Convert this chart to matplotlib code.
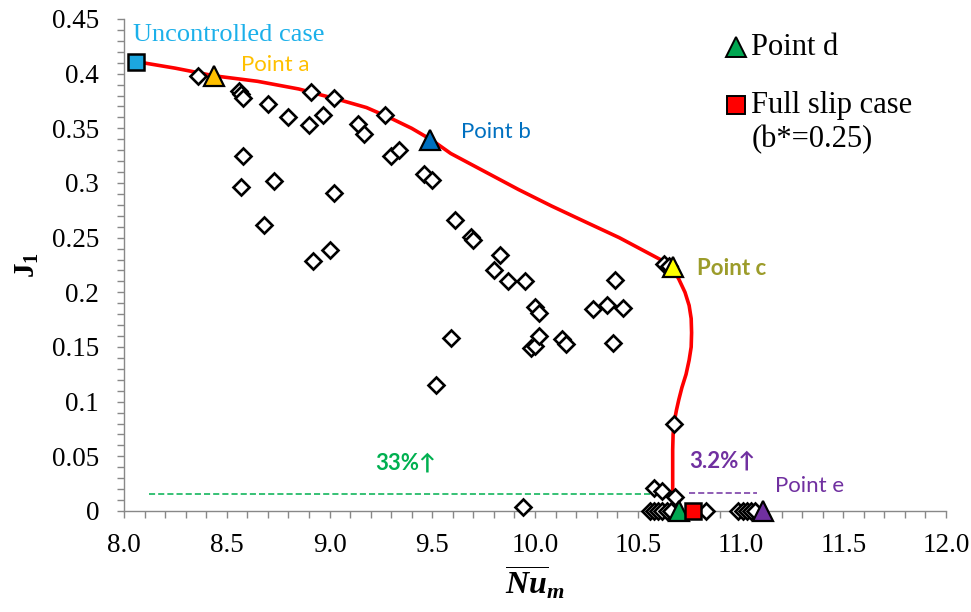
import matplotlib
matplotlib.use("Agg")
import matplotlib.pyplot as plt
from matplotlib.ticker import MultipleLocator, FuncFormatter

plt.rcParams['font.family'] = ['Liberation Serif', 'DejaVu Serif']
plt.rcParams['mathtext.fontset'] = 'custom'
plt.rcParams['mathtext.it'] = 'Liberation Serif:bold:italic'
plt.rcParams['mathtext.rm'] = 'Liberation Serif:bold'
plt.rcParams['mathtext.bf'] = 'Liberation Serif:bold'

# Pareto front (red curve)
front_x = [8.06, 8.25, 8.44, 8.65, 8.85, 9.05, 9.18, 9.29, 9.40, 9.50, 9.59, 9.76, 9.92, 10.08, 10.25, 10.41, 10.54,
           10.60, 10.64, 10.67, 10.70, 10.73, 10.75, 10.76, 10.762, 10.76, 10.75, 10.735, 10.715, 10.70,
           10.688, 10.678, 10.672, 10.67, 10.67, 10.67]
front_y = [0.411, 0.405, 0.398, 0.393, 0.386, 0.376, 0.369, 0.360, 0.350, 0.339, 0.327, 0.310, 0.294, 0.279, 0.264, 0.250, 0.237,
           0.231, 0.227, 0.222, 0.212, 0.200, 0.188, 0.176, 0.163, 0.150, 0.138, 0.125, 0.113, 0.102,
           0.092, 0.082, 0.070, 0.056, 0.030, 0.0]

# candidate designs (open diamonds)
cand_x = [8.36, 8.56, 8.57, 8.58, 8.70, 8.80, 8.91, 8.90, 8.97, 9.02, 9.14, 9.17, 9.27, 9.30, 9.34,
          9.46, 9.50, 8.58, 8.57, 8.73, 8.68, 9.02, 8.92, 9.00, 9.61, 9.69, 9.70, 9.83, 9.80, 9.87,
          9.95, 10.00, 10.02, 9.98, 10.00, 10.02, 9.59, 9.52, 10.13, 10.15, 10.28, 10.35, 10.39, 10.43,
          10.38, 10.63, 10.65, 10.675, 10.68, 10.58, 10.62, 9.94,
          10.56, 10.58, 10.60, 10.62, 10.64, 10.66, 10.83, 10.99, 11.01, 11.03, 11.05, 11.07]
cand_y = [0.398, 0.384, 0.381, 0.378, 0.372, 0.360, 0.383, 0.353, 0.362, 0.378, 0.354, 0.345, 0.362, 0.325, 0.330,
          0.308, 0.303, 0.325, 0.296, 0.302, 0.262, 0.291, 0.229, 0.239, 0.266, 0.251, 0.248, 0.234, 0.220, 0.210,
          0.210, 0.187, 0.181, 0.149, 0.151, 0.160, 0.158, 0.115, 0.157, 0.153, 0.185, 0.188, 0.211, 0.186,
          0.154, 0.226, 0.224, 0.080, 0.013, 0.021, 0.018, 0.004,
          0.0, 0.0, 0.0, 0.0, 0.0, 0.0, 0.0, 0.0, 0.0, 0.0, 0.0, 0.0]

# highlighted points
unc_x, unc_y = 8.06, 0.411
pa_x, pa_y = 8.44, 0.398
pb_x, pb_y = 9.49, 0.339
pc_x, pc_y = 10.67, 0.223
pd_x, pd_y = 10.70, 0.0
fs_x, fs_y = 10.77, 0.0
pe_x, pe_y = 11.11, 0.0

# improvement guide lines
green_x = [8.12, 10.64]
green_y = [0.0155, 0.0155]
purple_x = [10.75, 11.08]
purple_y = [0.0165, 0.0165]

L, R, T, B = 124, 946, 19, 511
fig = plt.figure(figsize=(9.71, 6.12), dpi=100)
ax = fig.add_axes([L/971, 1-B/612, (R-L)/971, (B-T)/612])

ax.plot(front_x, front_y, color='#FF0000', lw=2.6, zorder=2, solid_capstyle='round', solid_joinstyle='round')
ax.plot(green_x, green_y, color='#00B050', lw=1.1, ls=(0, (4, 2)), zorder=1)
ax.plot(purple_x, purple_y, color='#7030A0', lw=1.1, ls=(0, (4, 2)), zorder=1)

ax.plot(cand_x, cand_y, ls='none', marker='D', ms=8, mfc='white', mec='black', mew=1.9, zorder=3, clip_on=False)

ax.plot([unc_x], [unc_y], ls='none', marker='s', ms=11, mfc='#1CA7E0', mec='black', mew=1.8, zorder=4, clip_on=False)
ax.plot([pa_x], [pa_y], ls='none', marker='^', ms=14, mfc='#FFC000', mec='black', mew=1.6, zorder=4, clip_on=False)
ax.plot([pb_x], [pb_y], ls='none', marker='^', ms=14, mfc='#0070C0', mec='black', mew=1.6, zorder=4, clip_on=False)
ax.plot([pc_x], [pc_y], ls='none', marker='^', ms=14, mfc='#FFFF00', mec='black', mew=1.6, zorder=4, clip_on=False)
ax.plot([pd_x], [pd_y], ls='none', marker='^', ms=14, mfc='#00A651', mec='black', mew=1.6, zorder=4, clip_on=False)
ax.plot([fs_x], [fs_y], ls='none', marker='s', ms=12, mfc='#FF0000', mec='black', mew=1.8, zorder=4, clip_on=False)
ax.plot([pe_x], [pe_y], ls='none', marker='^', ms=14, mfc='#7030A0', mec='black', mew=1.6, zorder=4, clip_on=False)

ax.set_xlim(8.0, 12.0)
ax.set_ylim(0, 0.45)
ax.xaxis.set_major_locator(MultipleLocator(0.5))
ax.xaxis.set_minor_locator(MultipleLocator(0.1))
ax.yaxis.set_major_locator(MultipleLocator(0.05))
ax.yaxis.set_minor_locator(MultipleLocator(0.01))
ax.xaxis.set_major_formatter(FuncFormatter(lambda v, p: f"{v:.1f}"))
ax.yaxis.set_major_formatter(FuncFormatter(lambda v, p: f"{round(v, 2):g}"))
ax.tick_params(axis='both', which='major', direction='out', length=5, width=1, color='#888888', labelsize=19.5)
ax.tick_params(axis='x', which='major', pad=11)
ax.tick_params(axis='y', which='major', pad=13)
ax.tick_params(axis='both', which='minor', direction='out', length=5, width=1, color='#888888')
for s in ['top', 'right']:
    ax.spines[s].set_visible(False)
for s in ['left', 'bottom']:
    ax.spines[s].set_color('#888888')
    ax.spines[s].set_linewidth(1.0)

ax.set_ylabel(r'$\mathbf{J_1}$', fontsize=21, labelpad=8)
ax.set_xlabel(r'$\overline{Nu}_m$', fontsize=23, labelpad=4)

sans = ['Lato', 'DejaVu Sans']
ax.text(8.045, 0.435, 'Uncontrolled case', color='#1CB0EA', fontsize=19, ha='left', va='center')
ax.text(8.57, 0.408, 'Point a', color='#FFC000', fontsize=16, family=sans, ha='left', va='center')
ax.text(9.64, 0.347, 'Point b', color='#0070C0', fontsize=16, family=sans, ha='left', va='center')
ax.text(10.79, 0.222, 'Point c', color='#9C9C2A', fontsize=16, family=sans, fontweight='bold', ha='left', va='center')
ax.text(11.17, 0.0225, 'Point e', color='#7030A0', fontsize=16, family=sans, ha='left', va='center')
ax.text(9.37, 0.044, '33%↑', color='#00B050', fontsize=16, family=sans, fontweight='bold', ha='center', va='center')
ax.text(10.75, 0.046, '3.2%↑', color='#7030A0', fontsize=16, family=sans, fontweight='bold', ha='left', va='center')

# legend-like annotation
ax.plot([0.745], [0.943], transform=ax.transAxes, marker='^', ms=15, mfc='#00A651', mec='black', mew=1.4, ls='none', clip_on=False)
ax.text(0.763, 0.943, 'Point d', transform=ax.transAxes, fontsize=22, ha='left', va='center')
ax.plot([0.745], [0.825], transform=ax.transAxes, marker='s', ms=13, mfc='#FF0000', mec='black', mew=1.4, ls='none', clip_on=False)
ax.text(0.763, 0.825, 'Full slip case', transform=ax.transAxes, fontsize=22, ha='left', va='center')
ax.text(0.763, 0.755, '(b*=0.25)', transform=ax.transAxes, fontsize=22, ha='left', va='center')

fig.savefig('out.png', dpi=100)
